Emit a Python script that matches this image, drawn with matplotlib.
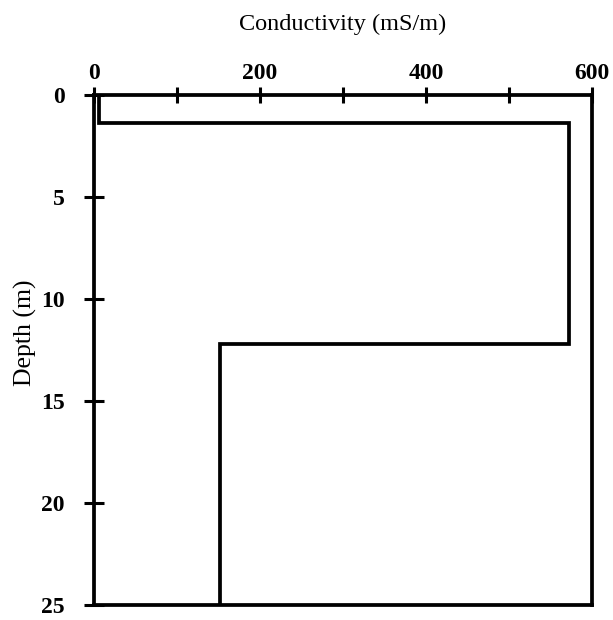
import matplotlib
matplotlib.use("Agg")
import matplotlib.pyplot as plt

# layered conductivity model
depth_bounds = [0, 1.4, 12.2, 25]
conductivity = [6, 572, 152]

x_ticks = [0, 200, 400, 600]
x_minor = [100, 300, 500]
y_ticks = [0, 5, 10, 15, 20, 25]

plt.rcParams['font.family'] = ['Liberation Serif', 'DejaVu Serif']

fig = plt.figure(figsize=(6.13, 6.2), dpi=100)
ax = fig.add_axes([0.153, 0.024, 0.813, 0.823])

# build step outline
xs, ys = [], []
for i in range(len(conductivity)):
    xs += [conductivity[i], conductivity[i]]
    ys += [depth_bounds[i], depth_bounds[i + 1]]
ax.plot(xs, ys, color='black', lw=2.7, solid_joinstyle='miter')

ax.set_xlim(0, 600)
ax.set_ylim(25, 0)

ax.xaxis.tick_top()
ax.xaxis.set_label_position('top')
ax.set_xticks(x_ticks)
ax.set_xticks(x_minor, minor=True)
ax.set_yticks(y_ticks)

for s in ax.spines.values():
    s.set_linewidth(2.7)

ax.tick_params(axis='x', which='both', direction='inout', length=11, width=2.2,
               labelsize=17, pad=2)
ax.tick_params(axis='y', direction='inout', length=14, width=2.2,
               labelsize=17, pad=14)
for lab in ax.get_xticklabels() + ax.get_yticklabels():
    lab.set_fontweight('bold')

ax.set_xlabel('Conductivity (mS/m)', fontsize=17.5)
ax.set_ylabel('Depth (m)', fontsize=18.5)
ax.xaxis.set_label_coords(0.5, 1.127)
ax.yaxis.set_label_coords(-0.113, 0.533)

fig.savefig('out.png', dpi=100)
